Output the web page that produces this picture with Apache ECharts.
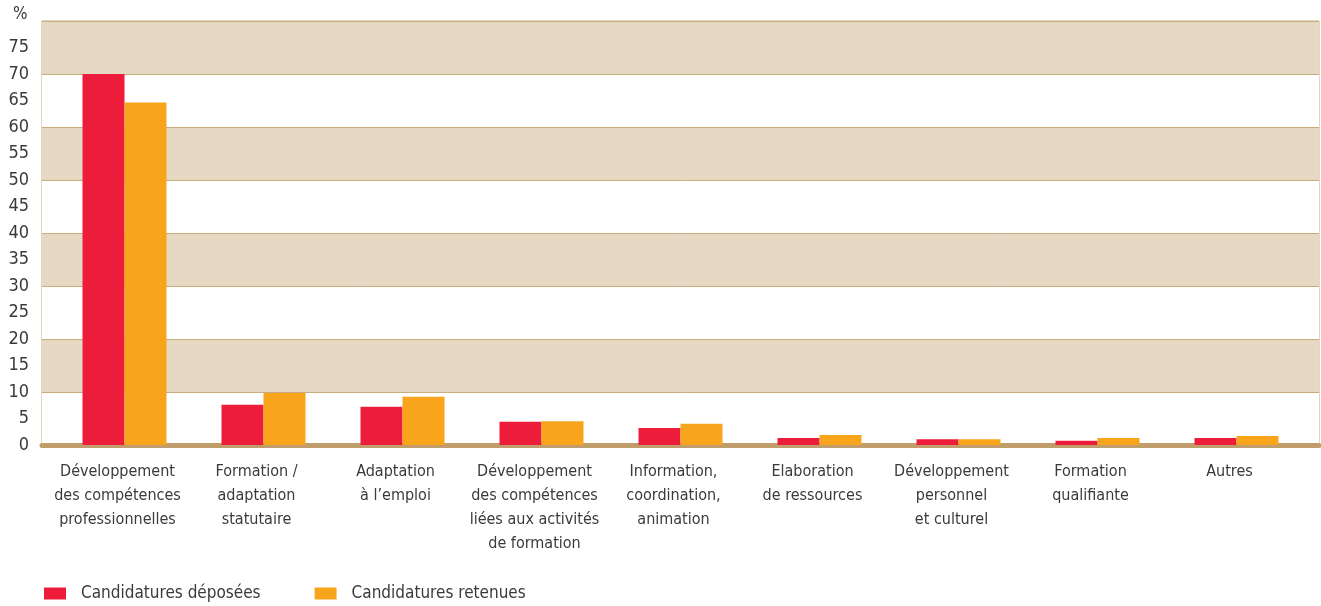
<!DOCTYPE html>
<html>
<head>
<meta charset="utf-8">
<script src="https://cdn.jsdelivr.net/npm/echarts@6/dist/echarts.min.js"></script>
<style>
  html, body { margin: 0; padding: 0; background: #fff; }
  #chart { width: 1321px; height: 606px; }
</style>
</head>
<body>
<div id="chart"></div>
<script>
const categories = [
  'Développement\ndes compétences\nprofessionnelles',
  'Formation /\nadaptation\nstatutaire',
  'Adaptation\nà l’emploi',
  'Développement\ndes compétences\nliées aux activités\nde formation',
  'Information,\ncoordination,\nanimation',
  'Elaboration\nde ressources',
  'Développement\npersonnel\net culturel',
  'Formation\nqualifiante',
  'Autres'
]
const deposees = [70, 7.6, 7.2, 4.4, 3.2, 1.3, 1.1, 0.8, 1.3]
const retenues = [64.6, 9.8, 9.1, 4.5, 4.0, 1.9, 1.1, 1.3, 1.7]
const seriesNames = ['Candidatures déposées', 'Candidatures retenues']

const font = "'DejaVu Sans Condensed', 'Liberation Sans Narrow', sans-serif"
const txt = '#3a3a3a'
const brown = '#c9ab80'

let myChart = echarts.init(document.getElementById('chart'))
myChart.setOption({
  animation: false,
  textStyle: { fontFamily: font },
  graphic: [
    { type: 'text', left: 13, top: 6, style: { text: '%', fontSize: 17, fontFamily: font, fill: txt } }
  ],
  legend: {
    left: 39,
    top: 580,
    itemWidth: 22,
    itemHeight: 12,
    itemGap: 54,
    icon: 'rect',
    textStyle: { fontSize: 17, color: txt, fontFamily: font, padding: [0, 0, 0, 10] },
    data: seriesNames
  },
  grid: [
    // bandes de fond
    { left: 42, right: 2, top: 21, bottom: 161, show: true, borderColor: brown, borderWidth: 1 },
    // barres
    { left: 55, right: 15, top: 21, bottom: 161 }
  ],
  xAxis: [
    {
      gridIndex: 0, type: 'value', min: 0, max: 1, show: true,
      offset: 3,
      axisLine: { show: true, lineStyle: { color: '#c19d6b', width: 5 } },
      axisTick: { show: false }, axisLabel: { show: false }, splitLine: { show: false }
    },
    {
      gridIndex: 1, type: 'category', data: categories,
      axisLine: { show: false }, axisTick: { show: false },
      axisLabel: {
        interval: 0, fontSize: 16, lineHeight: 24, color: txt, fontFamily: font,
        margin: 15, padding: [0, 14, 0, 0]
      }
    }
  ],
  yAxis: [
    {
      gridIndex: 0, type: 'value', min: 0, max: 80, interval: 10,
      axisLine: { show: false }, axisTick: { show: false }, axisLabel: { show: false },
      splitLine: { show: true, lineStyle: { color: brown, width: 1 } },
      splitArea: { show: true, areaStyle: { color: ['#ffffff', '#e5d9c3'] } }
    },
    {
      gridIndex: 1, type: 'value', min: 0, max: 80, interval: 5,
      axisLine: { show: false }, axisTick: { show: false },
      splitLine: { show: false },
      axisLabel: {
        margin: 26, fontSize: 18, color: txt, fontFamily: font,
        formatter: v => (v >= 80 ? '' : v)
      }
    }
  ],
  series: [
    {
      name: seriesNames[0], type: 'bar', xAxisIndex: 1, yAxisIndex: 1,
      barWidth: 42, barGap: '0%', data: deposees,
      itemStyle: { color: '#ee1c3b' }
    },
    {
      name: seriesNames[1], type: 'bar', xAxisIndex: 1, yAxisIndex: 1,
      barWidth: 42, barGap: '0%', data: retenues,
      itemStyle: { color: '#f8a51c' }
    }
  ]
})
</script>
</body>
</html>
